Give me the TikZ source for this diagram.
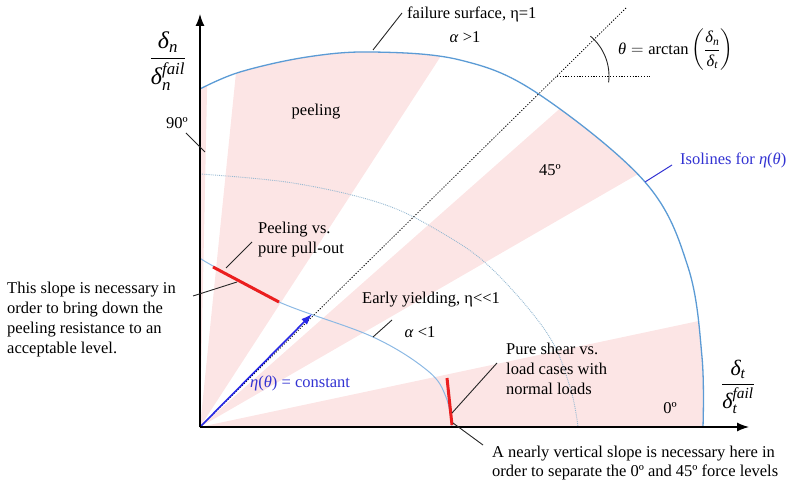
\documentclass[tikz,border=0pt]{standalone}
\usepackage{amsmath}
\usepackage{fontspec}
\setmainfont{Liberation Serif}
\usetikzlibrary{arrows.meta}
\definecolor{pinkw}{RGB}{252,229,229}
\definecolor{outerc}{RGB}{91,155,213}
\definecolor{innerc}{RGB}{140,185,228}
\definecolor{midc}{RGB}{150,185,210}
\definecolor{arrowc}{RGB}{40,40,230}
\definecolor{bluetxt}{RGB}{50,50,210}
\definecolor{redc}{RGB}{235,30,30}
\newcommand\gk[1]{\textit{#1}}
\tikzset{
  leader/.style={draw=black!85, line width=0.9pt},
  redseg/.style={draw=redc, line width=3pt},
  lbl/.style={inner sep=0pt, align=left},
  axisline/.style={draw=black, line width=1.3pt, -{Latex[length=12pt,width=9pt]}},
}
\begin{document}
\begin{tikzpicture}[x=1pt,y=1pt,font=\fontsize{16.5}{20}\selectfont]
\useasboundingbox (-200,-63) rectangle (598,427);
\coordinate (O) at (0,0);
% pink wedges clipped by failure surface
\begin{scope}
\clip (0,0) -- plot[smooth,tension=0.6] coordinates {(0,338) (40,355) (107,370) (173,375) (260,367) (337,334) (445,245) (488,160) (502,70) (503,0)} -- cycle;
\fill[pinkw] (O) -- (88.8:800) -- (90:800) -- cycle;
\fill[pinkw] (O) -- (57:800) -- (84.2:800) -- cycle;
\fill[pinkw] (O) -- (30:800) -- (41.5:800) -- cycle;
\fill[pinkw] (O) -- (0:800) -- (12:800) -- cycle;
\end{scope}
% middle dotted isoline
\draw[midc, line width=0.9pt, densely dotted] plot[smooth,tension=0.6] coordinates {(0,253) (93,244) (180,224) (237,197) (290,160) (347,94) (370,40) (378,0)};
% failure surface
\draw[outerc, line width=1.3pt] plot[smooth,tension=0.6] coordinates {(0,338) (40,355) (107,370) (173,375) (260,367) (337,334) (445,245) (488,160) (502,70) (503,0)};
% inner isoline
\draw[innerc, line width=1pt] plot[smooth,tension=0.6] coordinates {(0,169) (13,161) (79,125) (173,90) (228,56) (246,30) (252,0)};
% 45 degree dotted line and angle
\coordinate (dtop) at (427,420);
\coordinate (hc) at (357,351);
\coordinate (hend) at (450,351);
\draw[black, line width=0.8pt, dash pattern=on 1.2pt off 1.6pt] (O) -- (dtop);
\draw[black, line width=0.8pt, dash pattern=on 1.2pt off 1.6pt] (hc) -- (hend);
\draw[black!85, line width=0.9pt] ([shift={(50:52)}]hc) arc[start angle=50, end angle=-7, radius=52];
% red segments
\coordinate (r1a) at (13,160); \coordinate (r1b) at (79,125);
\coordinate (r2a) at (247,49); \coordinate (r2b) at (252,2);
\draw[redseg] (r1a) -- (r1b);
\draw[redseg] (r2a) -- (r2b);
% arrow
\coordinate (atip) at (112,113);
\draw[arrowc, line width=1.6pt, -{Latex[length=11pt,width=8pt]}] (O) -- (atip);
% axes
\coordinate (ytop) at (0,413);
\coordinate (xend) at (549,0);
\draw[axisline] (O) -- (ytop);
\draw[axisline] (O) -- (xend);
% axis labels
\node[inner sep=0pt] (yl) at (-32,366) {\fontsize{24}{28}\selectfont$\dfrac{\gk{δ}_{\gk{n}}}{\gk{δ}_{\gk{n}}^{\gk{fail}}}$};
\node[inner sep=0pt] (xl) at (538,40) {\fontsize{22}{26}\selectfont$\dfrac{\gk{δ}_{\gk{t}}}{\gk{δ}_{\gk{t}}^{\gk{fail}}}$};
% labels
\node[lbl] (n90) at (-23,304) {90º};
\coordinate (n90a) at (-14,294); \coordinate (n90b) at (5,275);
\draw[leader] (n90a) -- (n90b);
\node[lbl] (peel) at (116,315) {peeling};
\node[lbl, anchor=west] (fail) at (207,413) {failure surface, η=1};
\node[lbl] (agt) at (265,390) {\gk{α} >1};
\coordinate (fa) at (173,377); \coordinate (fb) at (202,414);
\draw[leader] (fa) -- (fb);
\node[lbl, anchor=west] (theta) at (418,377) {$\gk{θ} = \text{arctan}\left(\dfrac{\gk{δ}_{\gk{n}}}{\gk{δ}_{\gk{t}}}\right)$};
\node[lbl] (n45) at (350,257) {45º};
\node[lbl, anchor=west, text=bluetxt] (iso) at (480,267) {Isolines for \gk{η}(\gk{θ})};
\coordinate (isoa) at (445,245); \coordinate (isob) at (472,262);
\draw[bluetxt, line width=1pt] (isoa) -- (isob);
\node[lbl, anchor=west] (early) at (162,127) {Early yielding, η<{}<1};
\node[lbl] (alt) at (220,95) {\gk{α} <1};
\coordinate (ala) at (173,90); \coordinate (alb) at (192,107);
\draw[leader] (ala) -- (alb);
\node[lbl, anchor=west, text=bluetxt] (const) at (50,44) {\gk{η}(\gk{θ}) = constant};
\node[lbl, anchor=north west] (pvs) at (58,205) {Peeling vs.\\pure pull-out};
\coordinate (pva) at (26,159); \coordinate (pvb) at (52,185);
\draw[leader] (pva) -- (pvb);
\node[lbl, anchor=north west] (slope) at (-193,145) {This slope is necessary in\\order to bring down the\\peeling resistance to an\\acceptable level.};
\coordinate (sla) at (-7,131); \coordinate (slb) at (37,145);
\draw[leader] (sla) -- (slb);
\node[lbl, anchor=north west] (shear) at (306,84) {Pure shear vs.\\load cases with\\normal loads};
\coordinate (sha) at (252,14); \coordinate (shb) at (297,64);
\draw[leader] (sha) -- (shb);
\node[lbl] (n0) at (470,19) {0º};
\node[lbl, anchor=north west, font=\fontsize{16.5}{19}\selectfont] (vert) at (292,-19) {A nearly vertical slope is necessary here in\\order to separate the 0º and 45º force levels};
\coordinate (va) at (253,4); \coordinate (vb) at (283,-18);
\draw[leader] (va) -- (vb);
\end{tikzpicture}
\end{document}
